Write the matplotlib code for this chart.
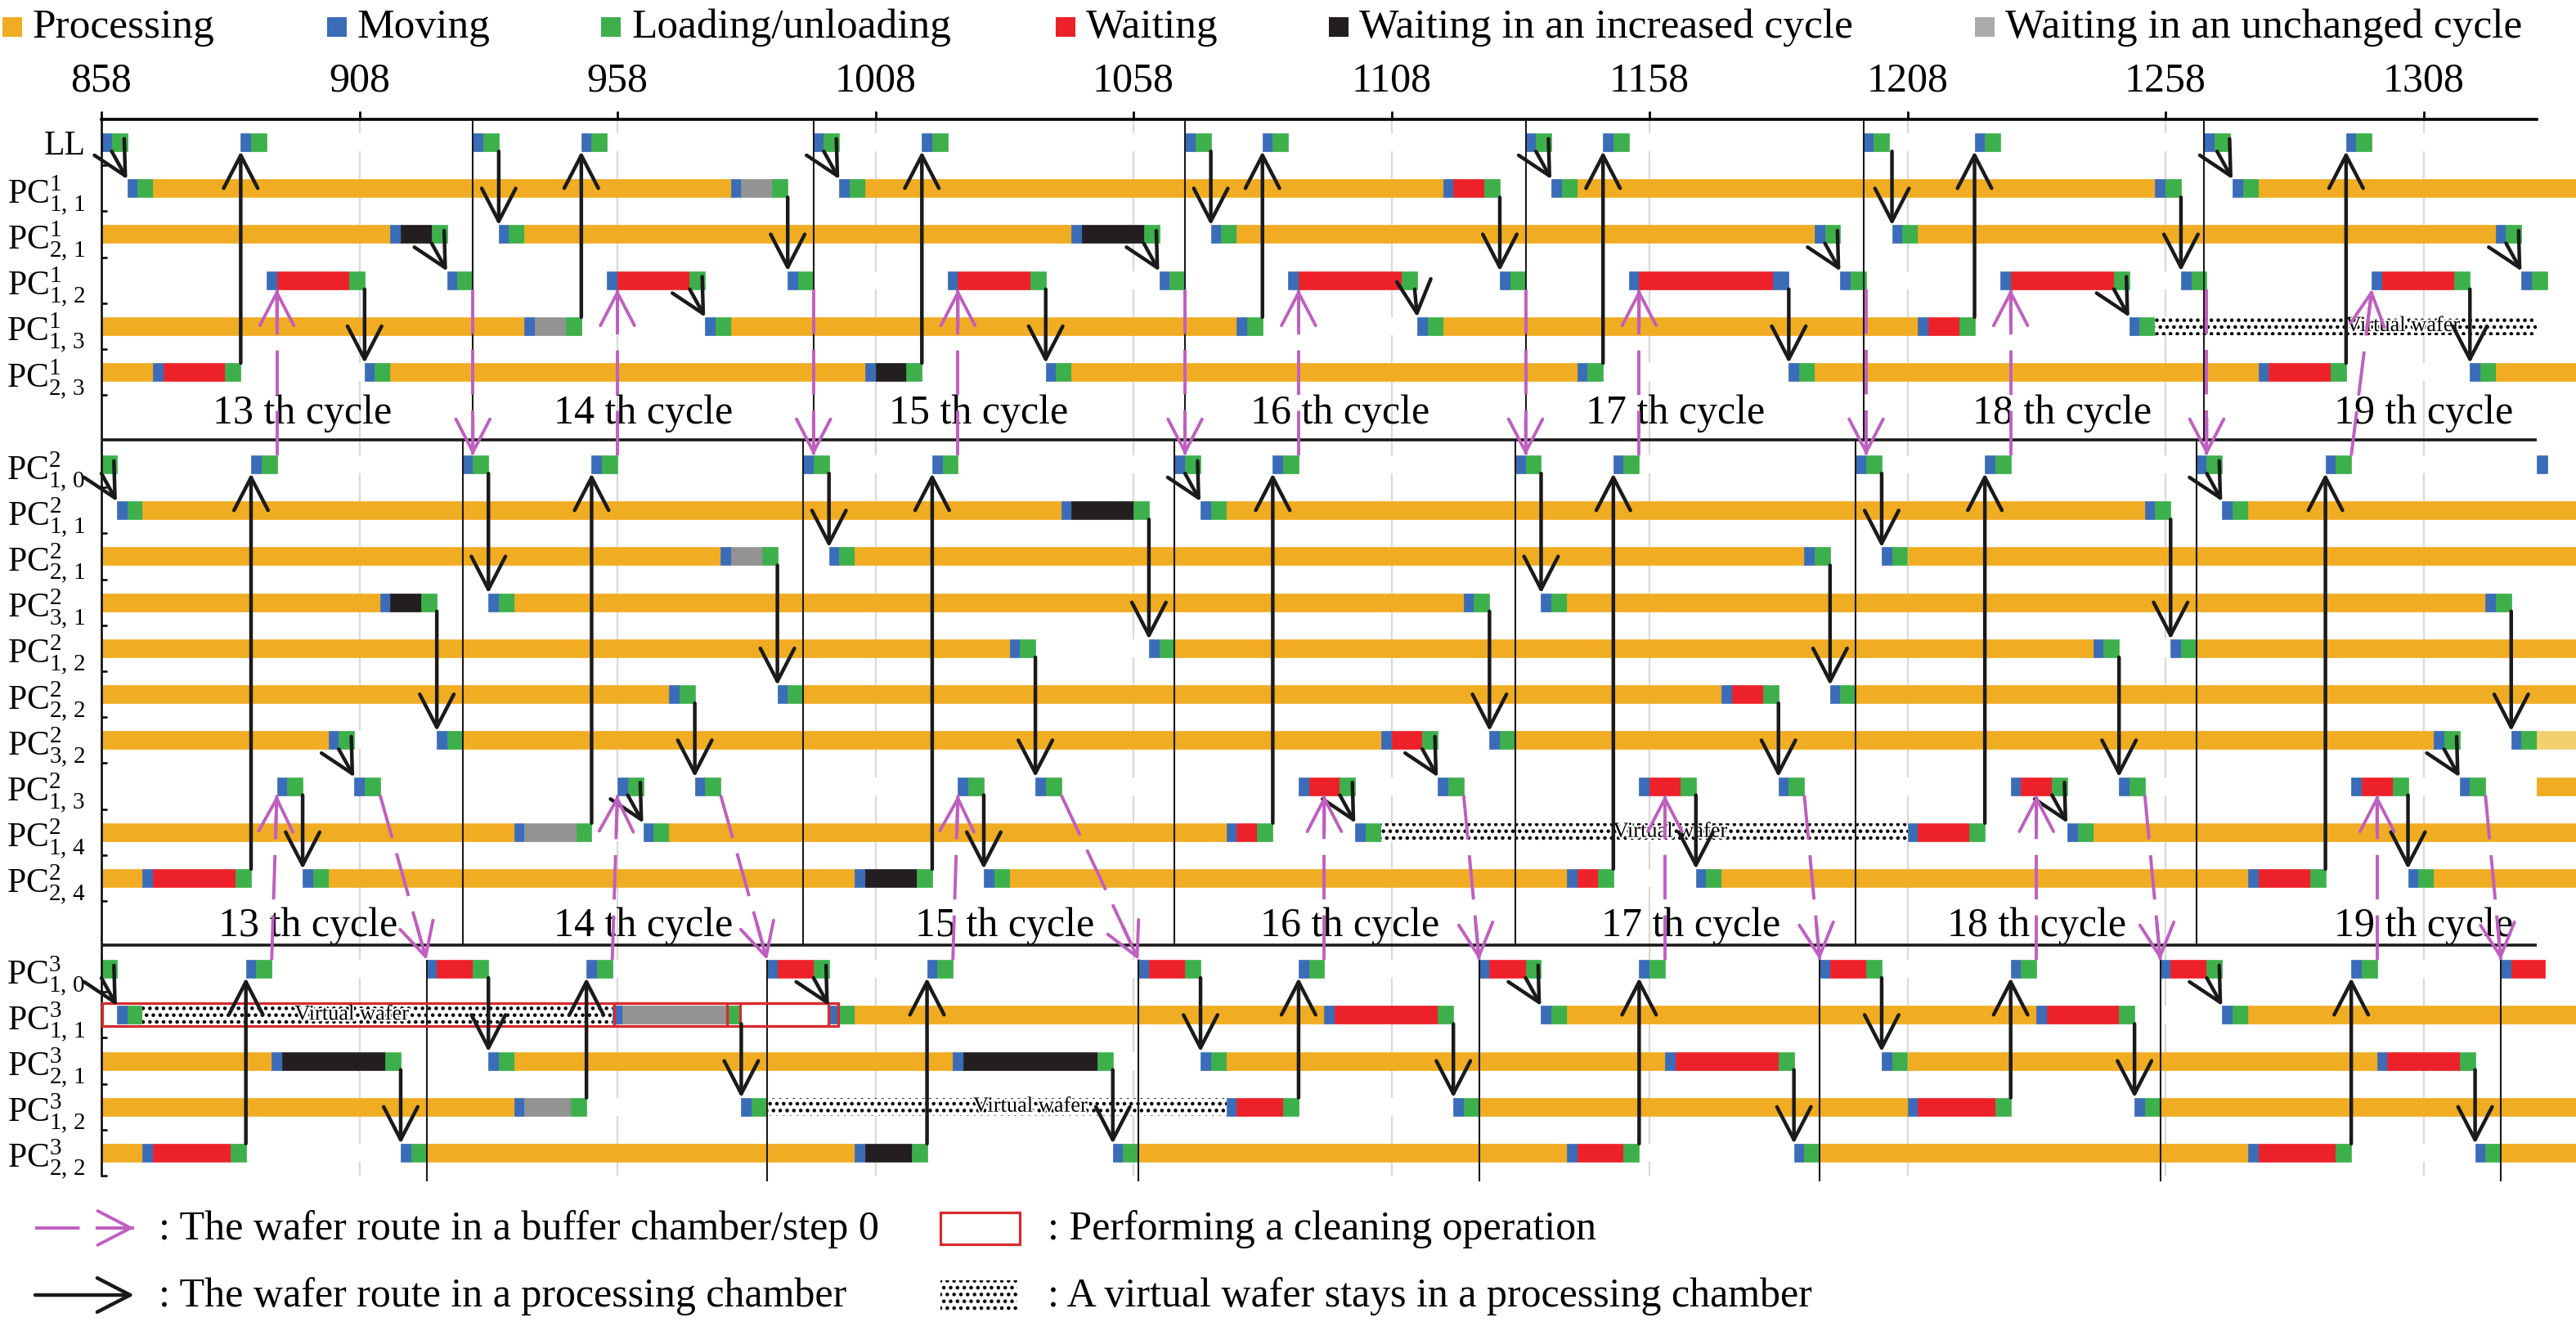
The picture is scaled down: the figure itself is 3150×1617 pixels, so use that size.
import numpy as np
import matplotlib
matplotlib.use('Agg')
import matplotlib.pyplot as plt
from matplotlib.patches import FancyArrowPatch, Rectangle
import matplotlib.patheffects as pe

plt.rcParams['font.family'] = 'Liberation Serif'
plt.rcParams['mathtext.fontset'] = 'custom'
plt.rcParams['mathtext.rm'] = 'Liberation Serif'
plt.rcParams['mathtext.it'] = 'Liberation Serif:italic'
plt.rcParams['hatch.linewidth'] = 2.0

# ---------------- data: (start, end, kind) per chamber ----------------
# P processing, M moving, L loading/unloading, W waiting,
# I waiting in increased cycle, U waiting in unchanged cycle, V virtual wafer, Q light processing
ll = [(858,860,'M'),(860,863,'L'),(885,887,'M'),(887,890,'L'),(930,932,'M'),(932,935,'L'),
      (951,953,'M'),(953,956,'L'),(996,998,'M'),(998,1001,'L'),(1017,1019,'M'),(1019,1022,'L'),
      (1068,1070,'M'),(1070,1073,'L'),(1083,1085,'M'),(1085,1088,'L'),(1134,1136,'M'),(1136,1139,'L'),
      (1149,1151,'M'),(1151,1154,'L'),(1199.5,1201.5,'M'),(1201.5,1204.5,'L'),(1221,1223,'M'),
      (1223,1226,'L'),(1265.5,1267.5,'M'),(1267.5,1270.5,'L'),(1293,1295,'M'),(1295,1298,'L')]
a11 = [(863,865,'M'),(865,868,'L'),(868,980,'P'),(980,982,'M'),(982,988,'U'),(988,991,'L'),
       (1001,1003,'M'),(1003,1006,'L'),(1006,1118,'P'),(1118,1120,'M'),(1120,1126,'W'),(1126,1129,'L'),
       (1139,1141,'M'),(1141,1144,'L'),(1144,1256,'P'),(1256,1258,'M'),(1258,1261,'L'),
       (1271,1273,'M'),(1273,1276,'L'),(1276,1337.5,'P')]
a21 = [(858,914,'P'),(914,916,'M'),(916,922,'I'),(922,925,'L'),(935,937,'M'),(937,940,'L'),
       (940,1046,'P'),(1046,1048,'M'),(1048,1060,'I'),(1060,1063,'L'),(1073,1075,'M'),(1075,1078,'L'),
       (1078,1190,'P'),(1190,1192,'M'),(1192,1195,'L'),(1205,1207,'M'),(1207,1210,'L'),
       (1210,1322,'P'),(1322,1324,'M'),(1324,1327,'L')]
a12 = [(890,892,'M'),(892,906,'W'),(906,909,'L'),(925,927,'M'),(927,930,'L'),(956,958,'M'),
       (958,972,'W'),(972,975,'L'),(991,993,'M'),(993,996,'L'),(1022,1024,'M'),(1024,1038,'W'),
       (1038,1041,'L'),(1063,1065,'M'),(1065,1068,'L'),(1088,1090,'M'),(1090,1110,'W'),(1110,1113,'L'),
       (1129,1131,'M'),(1131,1134,'L'),(1154,1156,'M'),(1156,1182,'W'),(1182,1185,'M'),
       (1195,1197,'M'),(1197,1200,'L'),(1226,1228,'M'),(1228,1248,'W'),(1248,1251,'L'),
       (1261,1263,'M'),(1263,1266,'L'),(1298,1300,'M'),(1300,1314,'W'),(1314,1317,'L'),
       (1327,1329,'M'),(1329,1332,'L')]
a13 = [(858,940,'P'),(940,942,'M'),(942,948,'U'),(948,951,'L'),(975,977,'M'),(977,980,'L'),
       (980,1078,'P'),(1078,1080,'M'),(1080,1083,'L'),(1113,1115,'M'),(1115,1118,'L'),
       (1118,1210,'P'),(1210,1212,'M'),(1212,1218,'W'),(1218,1221,'L'),(1251,1253,'M'),
       (1253,1256,'L'),(1256,1330,'V')]
a23 = [(858,868,'P'),(868,870,'M'),(870,882,'W'),(882,885,'L'),(909,911,'M'),(911,914,'L'),
       (914,1006,'P'),(1006,1008,'M'),(1008,1014,'I'),(1014,1017,'L'),(1041,1043,'M'),(1043,1046,'L'),
       (1046,1144,'P'),(1144,1146,'M'),(1146,1149,'L'),(1185,1187,'M'),(1187,1190,'L'),
       (1190,1276,'P'),(1276,1278,'M'),(1278,1290,'W'),(1290,1293,'L'),(1317,1319,'M'),
       (1319,1322,'L'),(1322,1337.5,'P')]

b10 = [(858,861,'L'),(887,889,'M'),(889,892,'L'),(928,930,'M'),(930,933,'L'),(953,955,'M'),
       (955,958,'L'),(994,996,'M'),(996,999,'L'),(1019,1021,'M'),(1021,1024,'L'),(1066,1068,'M'),
       (1068,1071,'L'),(1085,1087,'M'),(1087,1090,'L'),(1132,1134,'M'),(1134,1137,'L'),
       (1151,1153,'M'),(1153,1156,'L'),(1198,1200,'M'),(1200,1203,'L'),(1223,1225,'M'),
       (1225,1228,'L'),(1264,1266,'M'),(1266,1269,'L'),(1289,1291,'M'),(1291,1294,'L'),(1330,1332,'M')]
b11 = [(861,863,'M'),(863,866,'L'),(866,1044,'P'),(1044,1046,'M'),(1046,1058,'I'),(1058,1061,'L'),
       (1071,1073,'M'),(1073,1076,'L'),(1076,1254,'P'),(1254,1256,'M'),(1256,1259,'L'),
       (1269,1271,'M'),(1271,1274,'L'),(1274,1337.5,'P')]
b21 = [(858,978,'P'),(978,980,'M'),(980,986,'U'),(986,989,'L'),(999,1001,'M'),(1001,1004,'L'),
       (1004,1188,'P'),(1188,1190,'M'),(1190,1193,'L'),(1203,1205,'M'),(1205,1208,'L'),(1208,1337.5,'P')]
b31 = [(858,912,'P'),(912,914,'M'),(914,920,'I'),(920,923,'L'),(933,935,'M'),(935,938,'L'),
       (938,1122,'P'),(1122,1124,'M'),(1124,1127,'L'),(1137,1139,'M'),(1139,1142,'L'),
       (1142,1320,'P'),(1320,1322,'M'),(1322,1325,'L')]
b12 = [(858,1034,'P'),(1034,1036,'M'),(1036,1039,'L'),(1061,1063,'M'),(1063,1066,'L'),
       (1066,1244,'P'),(1244,1246,'M'),(1246,1249,'L'),(1259,1261,'M'),(1261,1264,'L'),(1264,1337.5,'P')]
b22 = [(858,968,'P'),(968,970,'M'),(970,973,'L'),(989,991,'M'),(991,994,'L'),(994,1172,'P'),
       (1172,1174,'M'),(1174,1180,'W'),(1180,1183,'L'),(1193,1195,'M'),(1195,1198,'L'),(1198,1337.5,'P')]
b32 = [(858,902,'P'),(902,904,'M'),(904,907,'L'),(923,925,'M'),(925,928,'L'),(928,1106,'P'),
       (1106,1108,'M'),(1108,1114,'W'),(1114,1117,'L'),(1127,1129,'M'),(1129,1132,'L'),
       (1132,1310,'P'),(1310,1312,'M'),(1312,1315,'L'),(1325,1327,'M'),(1327,1330,'L'),(1330,1337.5,'Q')]
b13 = [(892,894,'M'),(894,897,'L'),(907,909,'M'),(909,912,'L'),(958,960,'M'),(960,963,'L'),
       (973,975,'M'),(975,978,'L'),(1024,1026,'M'),(1026,1029,'L'),(1039,1041,'M'),(1041,1044,'L'),
       (1090,1092,'M'),(1092,1098,'W'),(1098,1101,'L'),(1117,1119,'M'),(1119,1122,'L'),
       (1156,1158,'M'),(1158,1164,'W'),(1164,1167,'L'),(1183,1185,'M'),(1185,1188,'L'),
       (1228,1230,'M'),(1230,1236,'W'),(1236,1239,'L'),(1249,1251,'M'),(1251,1254,'L'),
       (1294,1296,'M'),(1296,1302,'W'),(1302,1305,'L'),(1315,1317,'M'),(1317,1320,'L'),(1330,1337.5,'P')]
b14 = [(858,938,'P'),(938,940,'M'),(940,950,'U'),(950,953,'L'),(963,965,'M'),(965,968,'L'),
       (968,1076,'P'),(1076,1078,'M'),(1078,1082,'W'),(1082,1085,'L'),(1101,1103,'M'),(1103,1106,'L'),
       (1106,1208,'V'),(1208,1210,'M'),(1210,1220,'W'),(1220,1223,'L'),(1239,1241,'M'),
       (1241,1244,'L'),(1244,1337.5,'P')]
b24 = [(858,866,'P'),(866,868,'M'),(868,884,'W'),(884,887,'L'),(897,899,'M'),(899,902,'L'),
       (902,1004,'P'),(1004,1006,'M'),(1006,1016,'I'),(1016,1019,'L'),(1029,1031,'M'),(1031,1034,'L'),
       (1034,1142,'P'),(1142,1144,'M'),(1144,1148,'W'),(1148,1151,'L'),(1167,1169,'M'),(1169,1172,'L'),
       (1172,1274,'P'),(1274,1276,'M'),(1276,1286,'W'),(1286,1289,'L'),(1305,1307,'M'),
       (1307,1310,'L'),(1310,1337.5,'P')]

c10 = [(858,861,'L'),(886,888,'M'),(888,891,'L'),(921,923,'M'),(923,930,'W'),(930,933,'L'),
       (952,954,'M'),(954,957,'L'),(987,989,'M'),(989,996,'W'),(996,999,'L'),(1018,1020,'M'),
       (1020,1023,'L'),(1059,1061,'M'),(1061,1068,'W'),(1068,1071,'L'),(1090,1092,'M'),(1092,1095,'L'),
       (1125,1127,'M'),(1127,1134,'W'),(1134,1137,'L'),(1156,1158,'M'),(1158,1161,'L'),
       (1191,1193,'M'),(1193,1200,'W'),(1200,1203,'L'),(1228,1230,'M'),(1230,1233,'L'),
       (1257,1259,'M'),(1259,1266,'W'),(1266,1269,'L'),(1294,1296,'M'),(1296,1299,'L'),
       (1323,1325,'M'),(1325,1331.5,'W')]
c11 = [(861,863,'M'),(863,866,'L'),(866,957,'V'),(957,959,'M'),(959,979,'U'),(979,982,'L'),
       (999,1001,'M'),(1001,1004,'L'),(1004,1095,'P'),(1095,1097,'M'),(1097,1117,'W'),(1117,1120,'L'),
       (1137,1139,'M'),(1139,1142,'L'),(1142,1233,'P'),(1233,1235,'M'),(1235,1249,'W'),(1249,1252,'L'),
       (1269,1271,'M'),(1271,1274,'L'),(1274,1337.5,'P')]
c21 = [(858,891,'P'),(891,893,'M'),(893,913,'I'),(913,916,'L'),(933,935,'M'),(935,938,'L'),
       (938,1023,'P'),(1023,1025,'M'),(1025,1051,'I'),(1051,1054,'L'),(1071,1073,'M'),(1073,1076,'L'),
       (1076,1161,'P'),(1161,1163,'M'),(1163,1183,'W'),(1183,1186,'L'),(1203,1205,'M'),(1205,1208,'L'),
       (1208,1299,'P'),(1299,1301,'M'),(1301,1315,'W'),(1315,1318,'L')]
c12 = [(858,938,'P'),(938,940,'M'),(940,949,'U'),(949,952,'L'),(982,984,'M'),(984,987,'L'),
       (987,1076,'V'),(1076,1078,'M'),(1078,1087,'W'),(1087,1090,'L'),(1120,1122,'M'),(1122,1125,'L'),
       (1125,1208,'P'),(1208,1210,'M'),(1210,1225,'W'),(1225,1228,'L'),(1252,1254,'M'),
       (1254,1257,'L'),(1257,1337.5,'P')]
c22 = [(858,866,'P'),(866,868,'M'),(868,883,'W'),(883,886,'L'),(916,918,'M'),(918,921,'L'),
       (921,1004,'P'),(1004,1006,'M'),(1006,1015,'I'),(1015,1018,'L'),(1054,1056,'M'),(1056,1059,'L'),
       (1059,1142,'P'),(1142,1144,'M'),(1144,1153,'W'),(1153,1156,'L'),(1186,1188,'M'),(1188,1191,'L'),
       (1191,1274,'P'),(1274,1276,'M'),(1276,1291,'W'),(1291,1294,'L'),(1318,1320,'M'),
       (1320,1323,'L'),(1323,1337.5,'P')]

# row keys and labels (superscript, subscript) for each panel
panel1 = [('ll', None), ('a11', ('1', '1,\\,1')), ('a21', ('1', '2,\\,1')), ('a12', ('1', '1,\\,2')),
          ('a13', ('1', '1,\\,3')), ('a23', ('1', '2,\\,3'))]
panel2 = [('b10', ('2', '1,\\,0')), ('b11', ('2', '1,\\,1')), ('b21', ('2', '2,\\,1')),
          ('b31', ('2', '3,\\,1')), ('b12', ('2', '1,\\,2')), ('b22', ('2', '2,\\,2')),
          ('b32', ('2', '3,\\,2')), ('b13', ('2', '1,\\,3')), ('b14', ('2', '1,\\,4')),
          ('b24', ('2', '2,\\,4'))]
panel3 = [('c10', ('3', '1,\\,0')), ('c11', ('3', '1,\\,1')), ('c21', ('3', '2,\\,1')),
          ('c12', ('3', '1,\\,2')), ('c22', ('3', '2,\\,2'))]
segs = dict(ll=ll, a11=a11, a21=a21, a12=a12, a13=a13, a23=a23, b10=b10, b11=b11, b21=b21,
            b31=b31, b12=b12, b22=b22, b32=b32, b13=b13, b14=b14, b24=b24,
            c10=c10, c11=c11, c21=c21, c12=c12, c22=c22)

# wafer route in processing chambers: (t_from, row_from, t_to, row_to)
routes = [
    (860,'ll',863,'a11'),(885,'a23',885,'ll'),(909,'a12',909,'a23'),(922,'a21',925,'a12'),
    (935,'ll',935,'a21'),(951,'a13',951,'ll'),(972,'a12',975,'a13'),(991,'a11',991,'a12'),
    (998,'ll',1001,'a11'),(1017,'a23',1017,'ll'),(1041,'a12',1041,'a23'),(1060,'a21',1063,'a12'),
    (1073,'ll',1073,'a21'),(1083,'a13',1083,'ll'),(1112.5,'a12',1113,'a13'),(1129,'a11',1129,'a12'),
    (1136,'ll',1139,'a11'),(1149,'a23',1149,'ll'),(1185,'a12',1185,'a23'),(1192,'a21',1195,'a12'),
    (1205,'ll',1205,'a21'),(1221,'a13',1221,'ll'),(1248,'a12',1251,'a13'),(1261,'a11',1261,'a12'),
    (1268,'ll',1271,'a11'),(1293,'a23',1293,'ll'),(1317,'a12',1317,'a23'),(1324,'a21',1327,'a12'),
    (858,'b10',861,'b11'),(887,'b24',887,'b10'),(897,'b13',897,'b24'),(904,'b32',907,'b13'),
    (923,'b31',923,'b32'),(933,'b10',933,'b31'),(953,'b14',953,'b10'),(960,'b13',963,'b14'),
    (973,'b22',973,'b13'),(989,'b21',989,'b22'),(999,'b10',999,'b21'),(1019,'b24',1019,'b10'),
    (1029,'b13',1029,'b24'),(1039,'b12',1039,'b13'),(1061,'b11',1061,'b12'),(1068,'b10',1071,'b11'),
    (1085,'b14',1085,'b10'),(1098,'b13',1101,'b14'),(1114,'b32',1117,'b13'),(1127,'b31',1127,'b32'),
    (1137,'b10',1137,'b31'),(1151,'b24',1151,'b10'),(1167,'b13',1167,'b24'),(1183,'b22',1183,'b13'),
    (1193,'b21',1193,'b22'),(1203,'b10',1203,'b21'),(1223,'b14',1223,'b10'),(1236,'b13',1239,'b14'),
    (1249,'b12',1249,'b13'),(1259,'b11',1259,'b12'),(1266,'b10',1269,'b11'),(1289,'b24',1289,'b10'),
    (1305,'b13',1305,'b24'),(1312,'b32',1315,'b13'),(1325,'b31',1325,'b32'),
    (858,'c10',861,'c11'),(886,'c22',886,'c10'),(916,'c21',916,'c22'),(933,'c10',933,'c21'),
    (952,'c12',952,'c10'),(982,'c11',982,'c12'),(996,'c10',999,'c11'),(1018,'c22',1018,'c10'),
    (1054,'c21',1054,'c22'),(1071,'c10',1071,'c21'),(1090,'c12',1090,'c10'),(1120,'c11',1120,'c12'),
    (1134,'c10',1137,'c11'),(1156,'c22',1156,'c10'),(1186,'c21',1186,'c22'),(1203,'c10',1203,'c21'),
    (1228,'c12',1228,'c10'),(1252,'c11',1252,'c12'),(1266,'c10',1269,'c11'),(1294,'c22',1294,'c10'),
    (1318,'c21',1318,'c22')]

# wafer route through buffer chambers (dashed)
buffer_routes = [
    (892,'b10',892,'a12'),(958,'b10',958,'a12'),(1024,'b10',1024,'a12'),(1090,'b10',1090,'a12'),
    (1156,'b10',1156,'a12'),(1228,'b10',1228,'a12'),(1294,'b10',1298,'a12'),
    (930,'a12',930,'b10'),(996,'a12',996,'b10'),(1068,'a12',1068,'b10'),(1134,'a12',1134,'b10'),
    (1200,'a12',1200,'b10'),(1266,'a12',1266,'b10'),
    (891,'c10',892,'b13'),(957,'c10',958,'b13'),(1023,'c10',1024,'b13'),(1095,'c10',1095,'b13'),
    (1161,'c10',1161,'b13'),(1233,'c10',1233,'b13'),(1299,'c10',1299,'b13'),
    (912,'b13',921,'c10'),(978,'b13',987,'c10'),(1044,'b13',1059,'c10'),(1122,'b13',1125,'c10'),
    (1188,'b13',1191,'c10'),(1254,'b13',1257,'c10'),(1320,'b13',1323,'c10')]

cycle_bounds1 = [930, 996, 1068, 1134, 1199.5, 1265.5]
cycle_bounds2 = [928, 994, 1066, 1132, 1198, 1264]
cycle_bounds3 = [921, 987, 1059, 1125, 1191, 1257, 1323]
cycle_names = ['13 th cycle', '14 th cycle', '15 th cycle', '16 th cycle', '17 th cycle',
               '18 th cycle', '19 th cycle']
cycle_x1 = [897, 963, 1028, 1098, 1163, 1238, 1308]
cycle_x2 = [898, 963, 1033, 1100, 1166, 1233, 1308]
virtual_labels = [('a13', 1304), ('b14', 1162), ('c11', 906.5), ('c12', 1038)]
cleaning = [(858.2, 1000.8), (957.3, 979.2), (981.8, 998.9)]

colors = {'P': '#F0AC22', 'M': '#3B6CB8', 'L': '#3DB04B', 'W': '#ED2129',
          'I': '#231F20', 'U': '#939393', 'Q': '#F3D06E'}
pink = '#BF5FBF'

# ---------------- layout (pixel rows) ----------------
W, H = 3150, 1617
fig = plt.figure(figsize=(W/100, H/100), dpi=100)
lax = fig.add_axes([0, 0, 1, 1])
lax.set_xlim(0, W); lax.set_ylim(H, 0); lax.axis('off')

px_unit = 6.31
x_left = 124
y_top, y_bot = 146, 1438
ax = fig.add_axes([x_left/W, 1 - y_bot/H, (W - x_left)/W, (y_bot - y_top)/H])
ax.patch.set_visible(False)
ax.set_xlim(858, 858 + (W - x_left)/px_unit)
ax.set_ylim(y_bot, y_top)

yc, hh, labels, minor = {}, {}, [], []
for rows, base, step, h in [(panel1, 146, 56.2, 22), (panel2, 540, 56.2, 22), (panel3, 1157, 56.2, 22)]:
    for i, (key, lab) in enumerate(rows):
        yc[key] = base + step*(i + 0.5)
        hh[key] = h
        minor.append(base + step*(i + 1))
        labels.append('LL' if lab is None else r'$\mathrm{PC}_{%s}^{%s}$' % (lab[1], lab[0]))

# gridlines and white row bands
ax.vlines(range(908, 1309, 50), y_top, y_bot, color='#D9D9D9', lw=1.6, zorder=0.5)
for key in yc:
    ax.barh(yc[key], 1337.5 - 858, left=858, height=hh[key], color='white', lw=0, zorder=1)

for key, rows in segs.items():
    for s, e, k in rows:
        if k == 'V':
            ax.barh(yc[key], e - s, left=s, height=hh[key], facecolor='white', edgecolor='black',
                    hatch='..', lw=0, zorder=2)
        else:
            ax.barh(yc[key], e - s, left=s, height=hh[key], color=colors[k], edgecolor=colors[k],
                    lw=0.5, zorder=2)

for key, x in virtual_labels:
    ax.text(x, yc[key], 'Virtual wafer', fontsize=19, ha='center', va='center', zorder=3,
            path_effects=[pe.withStroke(linewidth=3, foreground='white')])

for s, e in cleaning:
    ax.add_patch(Rectangle((s, yc['c11'] - hh['c11']/2 - 3), e - s, hh['c11'] + 6, fill=False,
                           edgecolor='#D62A2F', lw=2.3, zorder=4))

# cycle boundaries
sep1, sep2 = 538.5, 1156
ax.vlines(cycle_bounds1, y_top, sep1, color='#1A1A1A', lw=1.5, zorder=3.5)
ax.vlines(cycle_bounds2, sep1, sep2, color='#1A1A1A', lw=1.5, zorder=3.5)
ax.vlines(cycle_bounds3, yc['c10'] - hh['c10']/2, 1445, color='#1A1A1A', lw=1.5, zorder=3.5, clip_on=False)
ax.hlines([sep1, sep2], 858, 1330, color='#1A1A1A', lw=2.6, zorder=3.5)

for name, x in zip(cycle_names, cycle_x1):
    ax.text(x, 518, name, fontsize=36, ha='center', va='baseline', zorder=3)
for name, x in zip(cycle_names, cycle_x2):
    ax.text(x, 1145, name, fontsize=36, ha='center', va='baseline', zorder=3)


def ends(t0, r0, t1, r1):
    if yc[r1] > yc[r0]:
        return (t0, yc[r0] + hh[r0]/2), (t1, yc[r1] - hh[r1]/2)
    return (t0, yc[r0] - hh[r0]/2), (t1, yc[r1] + hh[r1]/2)


def solid_arrow(a, p0, p1, color, lw, hl=29, hw=15):
    a.add_patch(FancyArrowPatch(p0, p1, arrowstyle='->,head_length=%g,head_width=%g' % (hl, hw),
                                lw=lw, color=color, shrinkA=0, shrinkB=0, mutation_scale=1,
                                zorder=6, clip_on=False))


def dashed_arrow(a, p0, p1):
    a.plot([p0[0], p1[0]], [p0[1], p1[1]], color=pink, lw=2.8, ls=(0, (14, 5)),
           zorder=7, solid_capstyle='butt', clip_on=False)
    d0 = a.transData.transform(p0)
    d1 = a.transData.transform(p1)
    u = (d1 - d0) / np.hypot(*(d1 - d0))
    pb = a.transData.inverted().transform(d1 - u*45)
    solid_arrow(a, tuple(pb), p1, pink, 2.8, 29, 15)


for t0, r0, t1, r1 in routes:
    p0, p1 = ends(t0, r0, t1, r1)
    solid_arrow(ax, p0, p1, '#1A1A1A', 3.2)
for t0, r0, t1, r1 in buffer_routes:
    p0, p1 = ends(t0, r0, t1, r1)
    dashed_arrow(ax, p0, p1)

# axes styling
for s in ['right', 'bottom']:
    ax.spines[s].set_visible(False)
ax.spines['top'].set_bounds(858, 1330)
ax.spines['top'].set_linewidth(2.6)
ax.spines['left'].set_linewidth(1.8)
ax.xaxis.tick_top()
ax.set_xticks(range(858, 1309, 50))
ax.tick_params(axis='x', top=True, bottom=False, labeltop=True, labelbottom=False, length=7,
               width=2, direction='out', labelsize=36, pad=10)
ax.set_yticks(list(yc.values()))
ax.set_yticklabels(labels, fontsize=30)
ax.set_yticks(minor, minor=True)
ax.tick_params(axis='y', which='major', length=0, pad=14)
ax.tick_params(axis='y', which='minor', direction='in', length=5, width=1.8)

# top legend
leg_names = ['Processing', 'Moving', 'Loading/unloading', 'Waiting', 'Waiting in an increased cycle',
             'Waiting in an unchanged cycle']
leg_colors = [colors['P'], colors['M'], colors['L'], colors['W'], colors['I'], '#ABABAB']
leg_x = [3, 400, 735, 1291, 1625, 2415]
for name, c, x in zip(leg_names, leg_colors, leg_x):
    lax.add_patch(Rectangle((x, 21), 24, 24, color=c, lw=0))
    lax.text(x + 37, 46, name, fontsize=37, va='baseline', ha='left')

# bottom legend
dashed_arrow(lax, (43, 1502), (164, 1502))
solid_arrow(lax, (43, 1584), (164, 1584), '#1A1A1A', 3.2)
lax.text(194, 1516, ': The wafer route in a buffer chamber/step 0', fontsize=36, va='baseline')
lax.text(194, 1598, ': The wafer route in a processing chamber', fontsize=36, va='baseline')
lax.add_patch(Rectangle((1150, 1483), 97, 39, fill=False, edgecolor='#D62A2F', lw=2.3))
lax.add_patch(Rectangle((1150, 1566), 94, 40, facecolor='white', edgecolor='black', hatch='..', lw=0))
lax.text(1281, 1516, ': Performing a cleaning operation', fontsize=36, va='baseline')
lax.text(1281, 1598, ': A virtual wafer stays in a processing chamber', fontsize=36, va='baseline')

fig.savefig('out.png', dpi=100)
